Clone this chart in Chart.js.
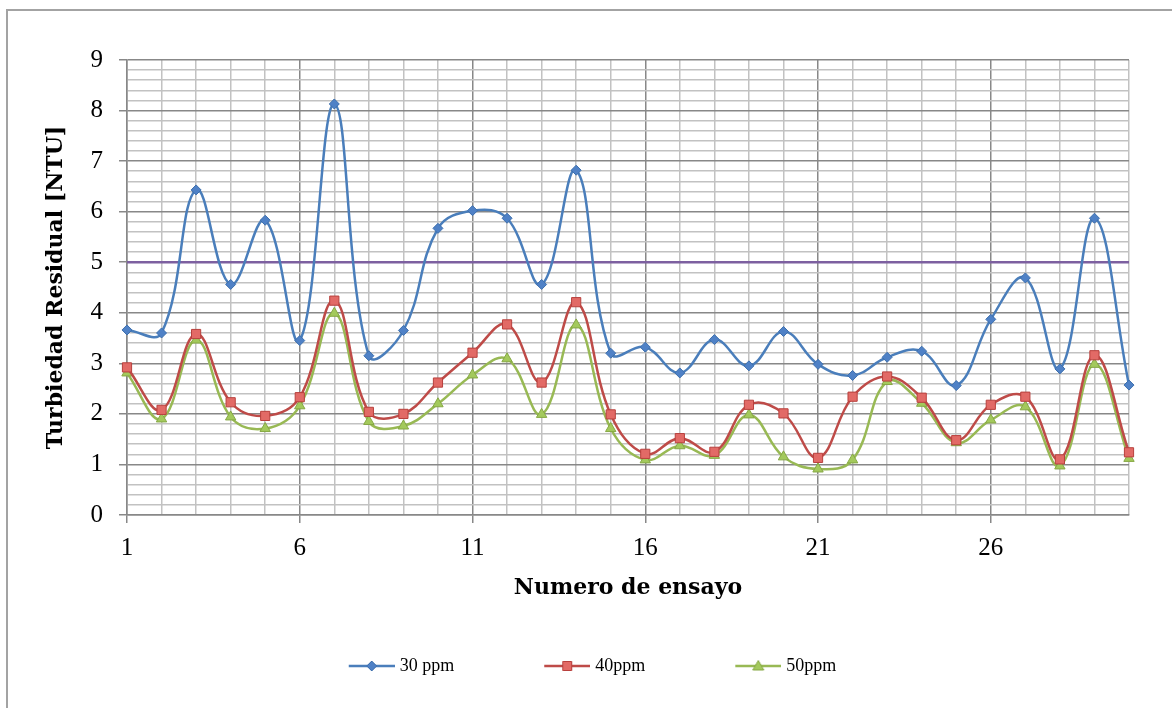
<!DOCTYPE html>
<html>
<head>
<meta charset="utf-8">
<title>Turbiedad residual por ensayo</title>
<script src="https://cdn.jsdelivr.net/npm/chart.js@4.4.0/dist/chart.umd.min.js"></script>
<style>
  html, body { margin: 0; padding: 0; background: #fff; }
  #wrap { position: relative; width: 1172px; height: 708px; overflow: hidden; background: #fff; }
  #wrap canvas { position: absolute; left: 0; top: 0; }
  #frame { position: absolute; left: 6px; top: 9px; width: 1240px; height: 780px;
           border-left: 2px solid #a3a3a3; border-top: 2px solid #a3a3a3; pointer-events: none; }
</style>
</head>
<body>
<div id="wrap">
  <canvas id="chart" width="1172" height="708"></canvas>
  <div id="frame"></div>
</div>
<script>
// Ensayos (eje X)
const ENSAYOS = [1, 2, 3, 4, 5, 6, 7, 8, 9, 10, 11, 12, 13, 14, 15,
                 16, 17, 18, 19, 20, 21, 22, 23, 24, 25, 26, 27, 28, 29, 30];

// Turbiedad residual [NTU] por dosis
const PPM30 = [3.66, 3.60, 6.43, 4.56, 5.83, 3.45, 8.13, 3.15, 3.65, 5.67,
               6.02, 5.87, 4.56, 6.82, 3.20, 3.32, 2.81, 3.47, 2.95, 3.63,
               2.98, 2.76, 3.12, 3.24, 2.56, 3.87, 4.69, 2.89, 5.87, 2.57];
const PPM40 = [2.92, 2.08, 3.58, 2.23, 1.96, 2.33, 4.24, 2.04, 2.00, 2.62,
               3.21, 3.77, 2.62, 4.21, 1.99, 1.21, 1.52, 1.25, 2.18, 2.01,
               1.13, 2.34, 2.74, 2.32, 1.48, 2.18, 2.34, 1.10, 3.16, 1.24];
const PPM50 = [2.81, 1.90, 3.46, 1.94, 1.71, 2.16, 3.99, 1.85, 1.76, 2.20,
               2.77, 3.09, 1.99, 3.76, 1.71, 1.09, 1.37, 1.18, 1.98, 1.15,
               0.91, 1.09, 2.64, 2.21, 1.43, 1.88, 2.14, 0.97, 2.98, 1.12];

// Límite de referencia (5 NTU)
const LIMITE = [5, 5, 5, 5, 5, 5, 5, 5, 5, 5, 5, 5, 5, 5, 5,
                5, 5, 5, 5, 5, 5, 5, 5, 5, 5, 5, 5, 5, 5, 5];

const SERIES = ['30 ppm', '40ppm', '50ppm'];

// Etiquetas visibles de los ejes
const X_TICK_LABELS = [1, 6, 11, 16, 21, 26];
const Y_TICK_LABELS = [0, 1, 2, 3, 4, 5, 6, 7, 8, 9];

const MAJOR = '#888888';
const MINOR = '#c2c2c2';

const STYLE = [
  { line: '#4a7ebb', fill: '#4f81c6', edge: '#3d6fad', shape: 'rectRot', r: 5 },
  { line: '#be4b48', fill: '#e26a66', edge: '#b8403d', shape: 'rect', r: 6.5 },
  { line: '#98b954', fill: '#a3c95c', edge: '#86a844', shape: 'triangle', r: 6 }
];

// Legend sample: a short line with the series marker on it
const LEGEND_BOX = 98;
function legendSample(s) {
  const w = LEGEND_BOX + 8, h = 18, cy = 9, cx = w - 23;
  const c = document.createElement('canvas');
  c.width = w; c.height = h;
  const g = c.getContext('2d');
  g.strokeStyle = s.line; g.lineWidth = 2.5;
  g.beginPath(); g.moveTo(w - 46, cy); g.lineTo(w, cy); g.stroke();
  g.fillStyle = s.fill; g.strokeStyle = s.edge; g.lineWidth = 1;
  g.beginPath();
  if (s.shape === 'rectRot') {
    g.moveTo(cx, cy - 5); g.lineTo(cx + 5, cy); g.lineTo(cx, cy + 5); g.lineTo(cx - 5, cy);
  } else if (s.shape === 'rect') {
    g.rect(cx - 4.5, cy - 4.5, 9, 9);
  } else {
    g.moveTo(cx, cy - 5.5); g.lineTo(cx + 5.5, cy + 4); g.lineTo(cx - 5.5, cy + 4);
  }
  g.closePath(); g.fill(); g.stroke();
  return c;
}
const LEGEND_IMAGES = STYLE.map(legendSample);

function serie(label, data, s) {
  return {
    label, data,
    borderColor: s.line, borderWidth: 2.5,
    backgroundColor: s.fill,
    pointStyle: s.shape, pointRadius: s.r, pointHoverRadius: s.r,
    pointBackgroundColor: s.fill, pointBorderColor: s.edge, pointBorderWidth: 1,
    tension: 0.4, fill: false
  };
}

const isInt = v => Math.abs(v - Math.round(v)) < 1e-6;

Chart.defaults.font.family = "'Liberation Serif', serif";
Chart.defaults.color = '#000';

new Chart(document.getElementById('chart'), {
  type: 'line',
  data: {
    labels: ENSAYOS,
    datasets: [
      serie(SERIES[0], PPM30, STYLE[0]),
      serie(SERIES[1], PPM40, STYLE[1]),
      serie(SERIES[2], PPM50, STYLE[2]),
      {
        label: 'Límite', data: LIMITE,
        borderColor: '#7d60a0', borderWidth: 2.5,
        pointRadius: 0, pointHoverRadius: 0, tension: 0, fill: false
      }
    ]
  },
  options: {
    responsive: false,
    animation: false,
    events: [],
    layout: { padding: { left: 0, top: 60, right: 43, bottom: 23 } },
    scales: {
      x: {
        type: 'category',
        offset: false,
        border: { color: MAJOR, width: 1.5 },
        grid: {
          color: c => X_TICK_LABELS.includes(ENSAYOS[c.index]) ? MAJOR : MINOR,
          tickColor: c => X_TICK_LABELS.includes(ENSAYOS[c.index]) ? MAJOR : 'rgba(0,0,0,0)',
          lineWidth: 1.5,
          tickLength: 8
        },
        ticks: {
          autoSkip: false, maxRotation: 0, padding: 10,
          font: { size: 25 },
          callback: (v, i) => X_TICK_LABELS.includes(ENSAYOS[i]) ? String(ENSAYOS[i]) : ''
        },
        title: {
          display: true, text: 'Numero de ensayo',
          font: { family: "'DejaVu Serif', serif", weight: 'bold', size: 22 },
          padding: { top: 0, bottom: 22 }
        },
        afterFit: s => { s.height = 108; }
      },
      y: {
        min: 0, max: 9,
        border: { color: MAJOR, width: 1.5 },
        grid: {
          color: c => isInt(c.tick.value) ? MAJOR : MINOR,
          tickColor: c => isInt(c.tick.value) ? MAJOR : 'rgba(0,0,0,0)',
          lineWidth: 1.5,
          tickLength: 8
        },
        ticks: {
          stepSize: 0.2, autoSkip: false, padding: 16,
          font: { size: 25 },
          callback: v => (isInt(v) && Y_TICK_LABELS.includes(Math.round(v))) ? String(Math.round(v)) : ''
        },
        title: {
          display: true, text: 'Turbiedad Residual [NTU]',
          font: { family: "'DejaVu Serif', serif", weight: 'bold', size: 22 },
          padding: { top: 43, bottom: 0 }
        },
        afterFit: s => { s.width = 127; }
      }
    },
    plugins: {
      tooltip: { enabled: false },
      legend: {
        position: 'bottom',
        labels: {
          usePointStyle: true,
          pointStyleWidth: LEGEND_BOX,
          padding: 34,
          color: '#000',
          font: { size: 18 },
          filter: item => item.datasetIndex < SERIES.length,
          generateLabels: chart => Chart.defaults.plugins.legend.labels.generateLabels(chart)
            .map(item => item.datasetIndex < SERIES.length
              ? Object.assign(item, { pointStyle: LEGEND_IMAGES[item.datasetIndex] })
              : item)
        }
      }
    }
  }
});
</script>
</body>
</html>
